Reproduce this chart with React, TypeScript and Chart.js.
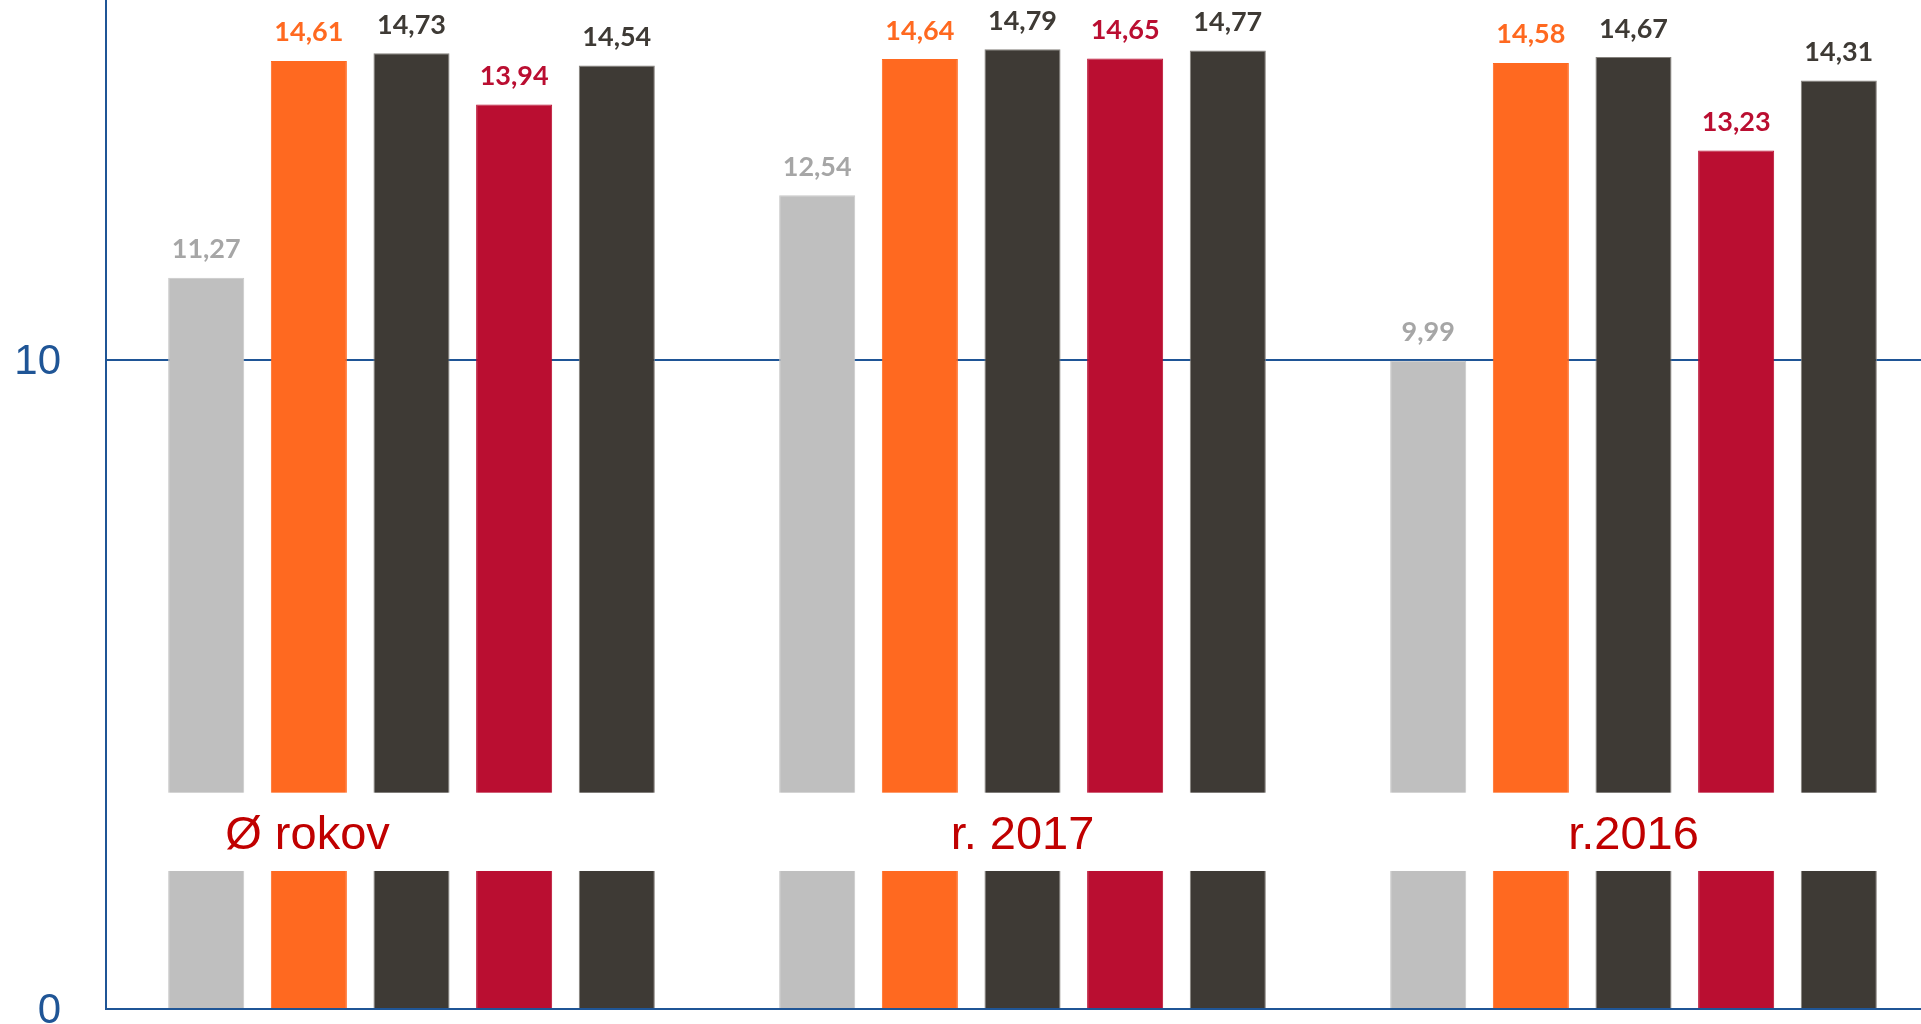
import React, { useEffect, useRef } from 'react';
import { Chart, registerables } from 'chart.js';

Chart.register(...registerables);

// ---- data ----
const categories = ['Ø rokov', 'r. 2017', 'r.2016'];
const seriesGray = [11.27, 12.54, 9.99];
const seriesOrange = [14.61, 14.64, 14.58];
const seriesDark1 = [14.73, 14.79, 14.67];
const seriesRed = [13.94, 14.65, 13.23];
const seriesDark2 = [14.54, 14.77, 14.31];
const yTicks = [0, 10];
const yMax = 15.55;
// value range covered by the white band that holds the category names
const bandFrom = 2.127;
const bandTo = 3.334;

const barColors = ['#BFBFBF', '#FF6920', '#3E3A35', '#BA0E31', '#3E3A35'];
const borderColors = ['#C8C8C8', '#FF6920', '#85817C', '#BA0E31', '#85817C'];
const labelColors = ['#A6A6A6', '#FF6920', '#3E3A35', '#BA0E31', '#3E3A35'];
const axisBlue = '#1F5596';

const PAD = 75; // hidden margin above/below the visible plot
const fmt = (v: number) => v.toFixed(2).replace('.', ',');

const overlayPlugin = {
  id: 'overlay',
  afterDatasetsDraw(chart: any) {
    const ctx = chart.ctx as CanvasRenderingContext2D;
    const { chartArea, scales } = chart;
    const y = scales.y;
    const x = scales.x;
    const top = y.getPixelForValue(bandTo);
    const bottom = y.getPixelForValue(bandFrom);
    ctx.save();
    // white band
    ctx.fillStyle = '#FFFFFF';
    ctx.fillRect(chartArea.left + 1.5, top, chartArea.right - chartArea.left, bottom - top);
    // category names
    ctx.font = '47px "Liberation Sans", Arial, sans-serif';
    ctx.fillStyle = '#C00000';
    ctx.textAlign = 'center';
    ctx.textBaseline = 'alphabetic';
    const mid = (top + bottom) / 2;
    categories.forEach((c, i) => {
      let cx = x.getPixelForValue(i);
      if (i === 0) cx -= 104;
      ctx.fillText(c, cx, mid + 17);
    });
    // value labels
    ctx.font = 'bold 27px Lato, "Open Sans", sans-serif';
    chart.data.datasets.forEach((ds: any, di: number) => {
      const meta = chart.getDatasetMeta(di);
      meta.data.forEach((bar: any, i: number) => {
        ctx.fillStyle = labelColors[di];
        ctx.fillText(fmt(ds.data[i]), bar.x, bar.y - 19.5);
      });
    });
    ctx.restore();
  },
};

export default function App() {
  const canvasRef = useRef<HTMLCanvasElement | null>(null);

  useEffect(() => {
    const canvas = canvasRef.current;
    if (!canvas) return;
    const series = [seriesGray, seriesOrange, seriesDark1, seriesRed, seriesDark2];
    const chart = new Chart(canvas, {
      type: 'bar',
      data: {
        labels: categories,
        datasets: series.map((d, i) => ({
          label: 'S' + (i + 1),
          data: d,
          backgroundColor: barColors[i],
          borderColor: borderColors[i],
          borderWidth: 1,
          categoryPercentage: 0.84,
          barPercentage: 0.741,
        })),
      },
      options: {
        responsive: false,
        maintainAspectRatio: false,
        devicePixelRatio: 1,
        animation: false,
        layout: { padding: { top: PAD, bottom: PAD, left: 0, right: 1 } },
        plugins: {
          legend: { display: false },
          tooltip: { enabled: false },
        },
        scales: {
          x: {
            display: false,
          },
          y: {
            min: 0,
            max: yMax,
            afterFit: (scale: any) => {
              scale.width = 106;
            },
            afterBuildTicks: (scale: any) => {
              scale.ticks = yTicks.map((v) => ({ value: v }));
            },
            border: { display: true, color: axisBlue, width: 2 },
            grid: {
              color: axisBlue,
              lineWidth: 2,
              drawTicks: false,
            },
            ticks: {
              padding: 45,
              labelOffset: 2.5,
              color: axisBlue,
              font: { family: '"Liberation Sans", Arial, sans-serif', size: 42 },
              callback: (v: any) => String(v),
            },
          },
        },
      },
      plugins: [overlayPlugin],
    });
    return () => chart.destroy();
  }, []);

  return (
    <div
      style={{
        position: 'fixed',
        top: 0,
        left: 0,
        width: 1921,
        height: 1024,
        overflow: 'hidden',
        background: '#FFFFFF',
      }}
    >
      <canvas
        ref={canvasRef}
        width={1940}
        height={PAD + 1009 + PAD}
        style={{
          position: 'absolute',
          top: -PAD,
          left: 0,
          width: 1940,
          height: PAD + 1009 + PAD,
          display: 'block',
        }}
      />
    </div>
  );
}
